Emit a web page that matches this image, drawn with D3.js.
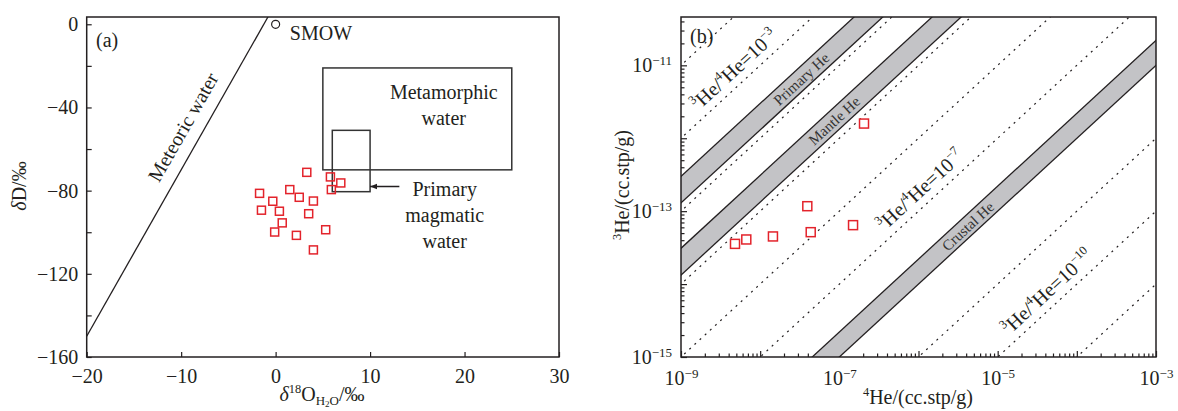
<!DOCTYPE html>
<html><head><meta charset="utf-8">
<script src="https://cdn.jsdelivr.net/npm/d3@7"></script>
<style>
body{margin:0;background:#fff;}
svg{display:block;}
</style></head><body>
<svg id="chart" width="1178" height="411"></svg>
<script>
// ---------------- Panel (a) data ----------------
const d18O = [3.3, 5.8, 6.9, 5.9, -1.7, 1.5, 2.5, -0.3, 4.0, -1.5, 0.4, 3.5, 0.7, -0.1, 2.2, 5.3, 4.0];
const dD   = [-71.2, -73.4, -76.3, -79.5, -81.3, -79.5, -83.2, -85.1, -85.0, -89.4, -89.9, -91.1, -95.5, -99.9, -101.5, -98.8, -108.5];
const smowPoint = [0, 0];
const meteoricX = [-20, -0.8];
const meteoricY = [-150, 3.6];
const metamorphicBox = [5, 25, -21, -70];   // x0, x1, yTop, yBottom
const magmaticBox = [6, 10, -51, -80.5];
const xTicksA = [-20, -10, 0, 10, 20, 30];
const yTicksA = [0, -20, -40, -60, -80, -100, -120, -140, -160];

// ---------------- Panel (b) data ----------------
const he4 = [4.81e-9, 6.68e-9, 1.45e-8, 3.94e-8, 4.35e-8, 1.49e-7, 2.05e-7];
const he3 = [3.56e-14, 4.09e-14, 4.50e-14, 1.17e-13, 5.15e-14, 6.43e-14, 1.59e-12];
const ratioLines = [1e-2, 1e-3, 1e-4, 1e-5, 1e-6, 1e-7, 1e-9, 1e-10, 1e-11];
const bandNames = ["Primary He", "Mantle He", "Crustal He"];
const bandLow  = [1.3e-4, 1.33e-5, 1e-8];
const bandHigh = [3e-4, 3.1e-5, 2.2e-8];
const bandLabelX = [3.3e-8, 8.6e-8, 4.2e-6];
const ratioLabelExp = [-3, -7, -10];
const ratioLabelX = [6.25e-9, 1.4e-6, 5.6e-5];
const xTicksB = [1e-9, 1e-7, 1e-5, 1e-3];
const yTicksB = [1e-15, 1e-13, 1e-11];

// ---------------- drawing ----------------
const FONT = '"Liberation Serif","Times New Roman",serif';
const ink = "#231f20";
const red = "#e3232b";
const svg = d3.select("#chart").attr("font-family", FONT);

function rich(sel, parts, base) {
  let shift = 0;
  parts.forEach(p => {
    let target = 0, fs = null;
    if (p.sup) { target = -base * 0.42; fs = base * 0.62; }
    else if (p.sub) { target = base * 0.2; fs = base * 0.65; }
    else if (p.subsub) { target = base * 0.32; fs = base * 0.45; }
    const ts = sel.append("tspan").attr("dy", target - shift).text(p.t);
    if (fs) ts.attr("font-size", fs);
    if (p.it) ts.attr("font-style", "italic");
    shift = target;
  });
}

function styleAxis(g) {
  g.select(".domain").remove();
  g.attr("font-family", FONT).attr("font-size", 20);
  g.selectAll(".tick line").attr("stroke", ink).attr("stroke-width", 1.2);
  g.selectAll(".tick text").attr("fill", ink);
}

// ===== Panel (a) =====
const xa = d3.scaleLinear().domain([-20, 30]).range([86.7, 559]);
const ya = d3.scaleLinear().domain([-160, 3.5]).range([357, 17]);
const ga = svg.append("g");
ga.append("clipPath").attr("id", "clipA").append("rect")
  .attr("x", xa.range()[0]).attr("y", ya.range()[1])
  .attr("width", xa.range()[1] - xa.range()[0]).attr("height", ya.range()[0] - ya.range()[1]);

ga.append("g").attr("transform", `translate(0,${ya.range()[0]})`)
  .call(d3.axisBottom(xa).tickValues(xTicksA).tickSize(-5).tickPadding(12).tickFormat(d3.format("d")))
  .call(styleAxis);
ga.append("g").attr("transform", `translate(${xa.range()[0]},0)`)
  .call(d3.axisLeft(ya).tickValues(yTicksA).tickSize(-5).tickPadding(8.5)
    .tickFormat(d => d % 40 === 0 ? d3.format("d")(d) : ""))
  .call(styleAxis);

const plotA = ga.append("g").attr("clip-path", "url(#clipA)");
plotA.append("line")
  .attr("x1", xa(meteoricX[0])).attr("y1", ya(meteoricY[0]))
  .attr("x2", xa(meteoricX[1])).attr("y2", ya(meteoricY[1]))
  .attr("stroke", ink).attr("stroke-width", 1.3);
[metamorphicBox, magmaticBox].forEach(b => {
  plotA.append("rect")
    .attr("x", xa(b[0])).attr("y", ya(b[2]))
    .attr("width", xa(b[1]) - xa(b[0])).attr("height", ya(b[3]) - ya(b[2]))
    .attr("fill", "none").attr("stroke", "#333").attr("stroke-width", 1.5);
});
svg.append("defs").append("marker").attr("id", "arr")
  .attr("viewBox", "0 0 10 10").attr("refX", 10).attr("refY", 5)
  .attr("markerWidth", 7).attr("markerHeight", 7).attr("markerUnits", "userSpaceOnUse").attr("orient", "auto")
  .append("path").attr("d", "M0,1 L10,5 L0,9 Z").attr("fill", ink);
plotA.append("line")
  .attr("x1", xa(13.1)).attr("y1", ya(-78)).attr("x2", xa(magmaticBox[1])).attr("y2", ya(-78))
  .attr("stroke", ink).attr("stroke-width", 1.5).attr("marker-end", "url(#arr)");
plotA.append("circle").attr("cx", xa(smowPoint[0])).attr("cy", ya(smowPoint[1])).attr("r", 4)
  .attr("fill", "#fff").attr("stroke", ink).attr("stroke-width", 1.2);
plotA.selectAll("rect.pt").data(d18O).join("rect").attr("class", "pt")
  .attr("x", (d) => xa(d) - 4).attr("y", (d, i) => ya(dD[i]) - 4)
  .attr("width", 8).attr("height", 8)
  .attr("fill", "none").attr("stroke", red).attr("stroke-width", 1.5);

ga.append("rect").attr("x", xa.range()[0]).attr("y", ya.range()[1])
  .attr("width", xa.range()[1] - xa.range()[0]).attr("height", ya.range()[0] - ya.range()[1])
  .attr("fill", "none").attr("stroke", ink).attr("stroke-width", 1.5);

const ta = (x, y, txt, anchor) => ga.append("text").attr("x", xa(x)).attr("y", ya(y))
  .attr("font-size", 20).attr("fill", ink).attr("text-anchor", anchor || "start").text(txt);
ta(1.5, -7.5, "SMOW");
ta(17.8, -36.1, "Metamorphic", "middle");
ta(17.8, -48.4, "water", "middle");
ta(17.9, -82.6, "Primary", "middle");
ta(17.9, -95.1, "magmatic", "middle");
ta(17.9, -107.6, "water", "middle");
ga.append("text").attr("x", 96).attr("y", 47).attr("font-size", 20).attr("fill", ink).text("(a)");
const angA = Math.atan2(ya(meteoricY[1]) - ya(meteoricY[0]), xa(meteoricX[1]) - xa(meteoricX[0])) * 180 / Math.PI;
ga.append("text").attr("transform", `translate(${xa(-9.8)},${ya(-49.4)}) rotate(${angA})`)
  .attr("text-anchor", "middle").attr("dy", "0.35em").attr("font-size", 20).attr("fill", ink).text("Meteoric water");
const xlabA = ga.append("text").attr("x", 322).attr("y", 401).attr("text-anchor", "middle")
  .attr("font-size", 20).attr("fill", ink);
rich(xlabA, [{t: "δ", it: true}, {t: "18", sup: true}, {t: "O"}, {t: "H", sub: true}, {t: "2", subsub: true}, {t: "O", sub: true}, {t: "/‰"}], 20);
const ylabA = ga.append("text").attr("transform", "translate(26,186) rotate(-90)").attr("text-anchor", "middle")
  .attr("font-size", 20).attr("fill", ink);
rich(ylabA, [{t: "δ", it: true}, {t: "D/‰"}], 20);

// ===== Panel (b) =====
const xb = d3.scaleLog().domain([1e-9, 1e-3]).range([681, 1156]);
const yb = d3.scaleLog().domain([1e-15, 4.6e-11]).range([357, 17]);
const gb = svg.append("g");
gb.append("clipPath").attr("id", "clipB").append("rect")
  .attr("x", xb.range()[0]).attr("y", yb.range()[1])
  .attr("width", xb.range()[1] - xb.range()[0]).attr("height", yb.range()[0] - yb.range()[1]);

function minorVals(e0, e1, maxV) {
  const v = [];
  for (let e = e0; e <= e1; e++) for (let k = 2; k <= 9; k++) { const val = k * Math.pow(10, e); if (val <= maxV) v.push(val); }
  return v;
}
function decadeVals(e0, e1) { const v = []; for (let e = e0; e <= e1; e++) v.push(Math.pow(10, e)); return v; }
function supLabels(g) {
  g.selectAll(".tick text").each(function(d) {
    const t = d3.select(this);
    if (!xTicksB.concat(yTicksB).some(v => Math.abs(Math.log10(v) - Math.log10(d)) < 1e-6)) { t.remove(); return; }
    const e = Math.round(Math.log10(d));
    t.text("");
    t.append("tspan").text("10");
    t.append("tspan").attr("dy", "-0.55em").attr("font-size", 13).text("−" + Math.abs(e));
  });
}
gb.append("g").attr("transform", `translate(0,${yb.range()[0]})`)
  .call(d3.axisBottom(xb).tickValues(minorVals(-9, -4, 1e-3)).tickSize(-3.5).tickFormat(""))
  .call(styleAxis);
gb.append("g").attr("transform", `translate(0,${yb.range()[0]})`)
  .call(d3.axisBottom(xb).tickValues(decadeVals(-9, -3)).tickSize(-6).tickPadding(14).tickFormat(d => "x"))
  .call(styleAxis).call(supLabels);
gb.append("g").attr("transform", `translate(${xb.range()[0]},0)`)
  .call(d3.axisLeft(yb).tickValues(minorVals(-15, -11, 4.6e-11)).tickSize(-3.5).tickFormat(""))
  .call(styleAxis);
gb.append("g").attr("transform", `translate(${xb.range()[0]},0)`)
  .call(d3.axisLeft(yb).tickValues(decadeVals(-15, -11)).tickSize(-6).tickPadding(9).tickFormat(d => "x"))
  .call(styleAxis).call(supLabels);

const plotB = gb.append("g").attr("clip-path", "url(#clipB)");
const xLo = 1e-10, xHi = 1e-2;
plotB.selectAll("line.ratio").data(ratioLines).join("line").attr("class", "ratio")
  .attr("x1", xb(xLo)).attr("y1", r => yb(r * xLo))
  .attr("x2", xb(xHi)).attr("y2", r => yb(r * xHi))
  .attr("stroke", ink).attr("stroke-width", 1.2).attr("stroke-dasharray", "2,5");
bandNames.forEach((name, i) => {
  const pts = [[xLo, bandLow[i] * xLo], [xHi, bandLow[i] * xHi], [xHi, bandHigh[i] * xHi], [xLo, bandHigh[i] * xLo]];
  plotB.append("path").attr("d", d3.line().x(p => xb(p[0])).y(p => yb(p[1]))(pts) + "Z")
    .attr("fill", "#c3c3c6").attr("stroke", "none");
  [bandLow[i], bandHigh[i]].forEach(r => {
    plotB.append("line").attr("x1", xb(xLo)).attr("y1", yb(r * xLo)).attr("x2", xb(xHi)).attr("y2", yb(r * xHi))
      .attr("stroke", ink).attr("stroke-width", 1.3);
  });
});
const angB = Math.atan2(yb(1e-9) - yb(1e-15), xb(1e-3) - xb(1e-9)) * 180 / Math.PI;
bandNames.forEach((name, i) => {
  const xv = bandLabelX[i], yv = Math.sqrt(bandLow[i] * bandHigh[i]) * xv;
  plotB.append("text").attr("transform", `translate(${xb(xv)},${yb(yv)}) rotate(${angB})`)
    .attr("text-anchor", "middle").attr("dy", "0.35em").attr("font-size", 15).attr("fill", "#333").text(name);
});
ratioLabelExp.forEach((e, i) => {
  const xv = ratioLabelX[i], yv = Math.pow(10, e) * xv;
  const t = plotB.append("text").attr("transform", `translate(${xb(xv)},${yb(yv)}) rotate(${angB})`)
    .attr("text-anchor", "middle").attr("y", -8).attr("font-size", 20).attr("fill", ink);
  rich(t, [{t: "3", sup: true}, {t: "He/"}, {t: "4", sup: true}, {t: "He=10"}, {t: "−" + Math.abs(e), sup: true}], 20);
});
plotB.selectAll("rect.pt").data(he4).join("rect").attr("class", "pt")
  .attr("x", d => xb(d) - 4.5).attr("y", (d, i) => yb(he3[i]) - 4.5)
  .attr("width", 9).attr("height", 9)
  .attr("fill", "#fff").attr("stroke", red).attr("stroke-width", 1.5);

gb.append("rect").attr("x", xb.range()[0]).attr("y", yb.range()[1])
  .attr("width", xb.range()[1] - xb.range()[0]).attr("height", yb.range()[0] - yb.range()[1])
  .attr("fill", "none").attr("stroke", ink).attr("stroke-width", 1.5);

gb.append("text").attr("x", 690).attr("y", 43).attr("font-size", 20).attr("fill", ink).text("(b)");
const xlabB = gb.append("text").attr("x", 918).attr("y", 404).attr("text-anchor", "middle").attr("font-size", 20).attr("fill", ink);
rich(xlabB, [{t: "4", sup: true}, {t: "He/(cc.stp/g)"}], 20);
const ylabB = gb.append("text").attr("transform", "translate(629,185) rotate(-90)").attr("text-anchor", "middle").attr("font-size", 20).attr("fill", ink);
rich(ylabB, [{t: "3", sup: true}, {t: "He/(cc.stp/g)"}], 20);
</script>
</body></html>
